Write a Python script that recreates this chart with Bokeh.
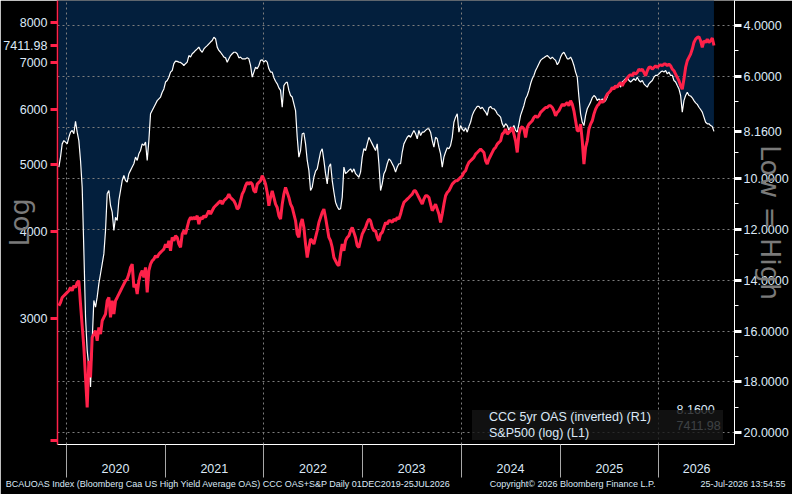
import pandas as pd
from bokeh.plotting import figure
from bokeh.models import (ColumnDataSource, Range1d, LinearAxis, LinearScale, FixedTicker,
                          Grid, PrintfTickFormatter, DatetimeTickFormatter, Label,
                          Legend, LegendItem)
from bokeh.embed import file_html
from bokeh.resources import INLINE

# ---------------- data ----------------
first_date = "2019-12-05"
last_date = "2026-07-24"

# CCC 5yr OAS (%), plotted inverted on the right axis
ccc_oas = [
    9.56, 9.17, 8.65, 8.52, 8.58, 8.65, 8.39, 8.19, 8.12, 8.25,
    7.76, 8.19, 8.52, 9.30, 10.35, 12.84, 15.45, 16.76, 17.42, 18.20,
    16.37, 14.80, 15.06, 14.67, 14.14, 13.75, 13.36, 12.97, 12.05, 10.61,
    10.48, 11.07, 11.33, 12.05, 11.53, 11.66, 10.87, 10.48, 10.09, 9.89,
    10.09, 10.15, 9.82, 9.69, 9.56, 9.43, 9.17, 9.30, 9.04, 8.91,
    8.65, 8.71, 8.58, 9.30, 8.52, 7.47, 7.34, 7.21, 7.08, 6.95,
    6.88, 6.81, 6.62, 6.49, 6.22, 6.16, 6.03, 5.83, 5.77, 5.50,
    5.40, 5.41, 5.44, 5.45, 5.50, 5.57, 5.50, 5.44, 5.18, 5.24,
    5.11, 5.05, 4.98, 4.92, 4.85, 4.98, 5.05, 4.92, 4.85, 4.79,
    4.72, 4.65, 4.59, 4.46, 4.52, 4.85, 4.98, 5.05, 5.14, 5.24,
    5.27, 5.44, 5.31, 5.18, 5.11, 5.05, 5.05, 5.11, 5.27, 5.24,
    5.31, 5.31, 5.31, 5.27, 5.31, 5.57, 6.03, 5.83, 5.64, 5.70,
    5.57, 5.37, 5.35, 5.44, 5.37, 5.44, 5.70, 5.83, 5.83, 6.05,
    6.19, 6.29, 6.45, 6.55,
    7.21, 6.36, 6.26, 6.22, 6.55, 6.75, 6.81, 7.08, 7.34, 8.39,
    9.17, 8.91, 8.25, 8.23, 8.65, 9.30, 9.69, 10.48, 10.35, 9.96,
    9.72, 9.63, 9.30, 8.97, 8.84, 9.30, 9.82, 10.22, 9.56, 9.43,
    10.09, 10.54, 10.94, 11.11, 11.23, 11.20, 10.74, 9.56, 9.82, 9.76,
    9.69, 9.63, 9.76, 9.63, 9.82, 9.89, 9.96, 9.76, 9.17, 8.84,
    8.91, 8.65, 8.39, 8.52, 8.65, 8.78, 8.91, 8.65, 9.43, 10.48,
    10.22, 9.82, 9.69, 9.43, 9.24, 9.30, 9.43, 9.56, 9.76, 9.56,
    9.43, 9.43, 8.97, 8.65, 8.52, 8.39, 8.32, 8.39, 8.25, 8.12,
    8.25, 8.45, 8.12, 8.32, 8.19, 8.19, 8.12, 8.06, 8.06, 8.19,
    8.52, 8.78, 8.39, 8.45, 8.78, 9.04, 9.56, 9.17, 8.97, 8.80,
    8.84, 8.71, 8.39, 7.80, 7.60, 7.47, 8.19, 7.93, 8.06, 8.15,
    8.02, 8.19, 7.97, 7.80, 7.53, 7.38, 7.27, 7.18, 7.18, 7.27,
    7.21, 7.31, 7.40, 7.53, 7.23, 7.18, 7.27, 7.27, 7.34, 7.47,
    7.53, 7.60,
    7.86, 7.99, 7.86, 7.93, 8.12, 7.99, 8.06, 7.93, 8.12, 8.19,
    7.86, 7.53, 7.34, 7.14, 6.88, 6.75, 6.55, 6.29, 6.09, 5.96,
    5.77, 5.64, 5.50, 5.37, 5.31, 5.27, 5.22, 5.18, 5.24, 5.31,
    5.24, 5.31, 5.37, 5.54, 5.44, 5.24, 5.11, 5.05, 5.18, 5.31,
    5.31, 5.24, 5.37, 5.57, 5.83, 6.03, 6.81, 7.47, 7.80, 7.93,
    7.53, 7.27, 7.14, 7.01, 6.84, 6.75, 6.81, 6.95, 6.88, 6.95,
    6.88, 7.01, 6.95, 6.81, 6.62, 6.55, 6.49, 6.42, 6.36, 6.36,
    6.29, 6.42, 6.22, 6.16, 6.09, 6.03, 6.16, 6.22, 6.16, 6.09,
    6.16, 6.03, 6.16, 6.22, 6.16, 6.29, 6.36, 6.42, 6.29, 6.22,
    6.16, 6.03, 5.96, 5.96, 5.90, 5.83, 5.79, 5.83, 5.77, 5.90,
    5.83, 5.96, 5.96, 6.16, 6.22, 6.36, 6.49, 6.75, 7.40, 6.95,
    6.75, 6.62, 6.75, 6.77, 6.84, 6.95, 7.04, 7.10, 7.21, 7.30,
    7.40, 7.60, 7.80, 7.86, 7.86, 7.93, 7.97, 8.16,
]

# S&P 500 index level, log left axis
spx = [
    3127, 3161, 3214, 3232, 3250, 3268, 3286, 3323, 3286, 3341,
    3323, 3378, 3397, 3144, 2926, 2723, 2465, 2232, 2605, 2465,
    2815, 2846, 2878, 2784, 2910, 2846, 2975, 3008, 3041, 3179,
    3214, 3008, 3179, 3041, 3179, 3214, 3250, 3286, 3323, 3360,
    3397, 3416, 3473, 3551, 3590, 3323, 3360, 3250, 3397, 3473,
    3512, 3435, 3551, 3268, 3512, 3590, 3630, 3650, 3691, 3670,
    3711, 3732, 3752, 3773, 3836, 3794, 3879, 3752, 3922, 3879,
    3944, 3922, 3836, 3794, 3966, 4010, 3966, 4054, 4145, 4191,
    4168, 4191, 4168, 4214, 4099, 4191, 4168, 4214, 4191, 4238,
    4285, 4238, 4285, 4332, 4356, 4380, 4405, 4429, 4380, 4429,
    4454, 4478, 4528, 4478, 4454, 4429, 4380, 4308, 4332, 4429,
    4528, 4578, 4655, 4707, 4681, 4707, 4681, 4578, 4553, 4681,
    4707, 4733, 4812, 4759, 4681, 4553, 4356, 4478, 4578, 4478,
    4380, 4332, 4214, 4168,
    4380, 4528, 4629, 4553, 4478, 4380, 4332, 4238, 4145, 3966,
    3922, 4099, 4168, 4054, 3836, 3670, 3794, 3900, 3879, 3836,
    3922, 4010, 4122, 4191, 4261, 4308, 4191, 4054, 3922, 3879,
    3794, 3670, 3630, 3590, 3570, 3711, 3836, 3752, 3879, 3922,
    3944, 4010, 4054, 3988, 3922, 3815, 3794, 3879, 3966, 4010,
    4054, 4122, 4168, 4145, 4054, 4010, 4010, 3922, 3879, 3966,
    3988, 4054, 4122, 4099, 4145, 4145, 4122, 4168, 4145, 4191,
    4168, 4238, 4332, 4405, 4429, 4454, 4478, 4503, 4528, 4578,
    4578, 4528, 4478, 4429, 4380, 4454, 4503, 4503, 4478, 4380,
    4285, 4332, 4380, 4308, 4238, 4122, 4238, 4380, 4503, 4553,
    4578, 4629, 4681, 4707, 4733, 4733, 4759, 4786, 4812, 4866,
    4893, 4974, 5030, 5058, 5086, 5114, 5171, 5199, 5228, 5257,
    5228, 5199, 5058, 5002, 5086, 5142, 5199, 5257, 5286, 5345,
    5375, 5404,
    5525, 5556, 5618, 5525, 5556, 5587, 5649, 5525, 5404, 5199,
    5525, 5636, 5661, 5618, 5464, 5649, 5711, 5743, 5775, 5839,
    5872, 5839, 5872, 5937, 5970, 6003, 6036, 6036, 6069, 6069,
    6036, 5970, 5872, 5937, 5970, 6036, 6103, 6069, 6103, 6137,
    6069, 6171, 6103, 5970, 5775, 5587, 5587, 5711, 5404, 5002,
    5286, 5404, 5618, 5711, 5775, 5904, 6003, 6069, 6103, 6171,
    6137, 6171, 6240, 6309, 6344, 6379, 6450, 6414, 6486, 6450,
    6522, 6558, 6486, 6558, 6594, 6653, 6704, 6726, 6704, 6779,
    6742, 6779, 6854, 6817, 6854, 6779, 6704, 6817, 6892, 6908,
    6854, 6892, 6931, 6892, 6931, 6954, 6931, 6969, 6969, 6931,
    6969, 6931, 6854, 6817, 6742, 6668, 6594, 6486, 6414, 6631,
    6892, 7047, 7125, 7204, 7325, 7488, 7571, 7613, 7630, 7530,
    7365, 7530, 7488, 7571, 7488, 7530, 7597, 7411.98,
]

year_labels = ["2020", "2021", "2022", "2023", "2024", "2025", "2026"]
oas_ticks = [4, 6, 8, 10, 12, 14, 16, 18, 20]
oas_minor_ticks = [5, 7, 9, 11, 13, 15, 17, 19]
spx_ticks = [2000, 3000, 4000, 5000, 6000, 7000, 8000]
grid_years = ["2020", "2022", "2024", "2026"]

ccc_name = "CCC 5yr OAS (inverted) (R1)"
spx_name = "S&P500 (log) (L1)"
left_title = "Log"
right_title = "Low = High"
footer_parts = ["BCAUOAS Index (Bloomberg Caa US High Yield Average OAS) CCC OAS+S&P Daily 01DEC2019-25JUL2026",
                "Copyright\u00a9 2026 Bloomberg Finance L.P.",
                "25-Jul-2026 13:54:55"]

# ---------------- styling ----------------
RED = "#ff2149"
NAVY = "#031f3d"
LBL = "#dce9f7"
GRID = "#7d7d7d"
TITLE_GRAY = "#7a7a7a"
FONT = "Liberation Sans"
FS = "12.5px"
NBSP = "\u00a0"


def ms(ts):
    return pd.Timestamp(ts).value / 1e6


ccc_dates = pd.date_range(first_date, last_date, periods=len(ccc_oas))
spx_dates = pd.date_range(first_date, last_date, periods=len(spx))
src_c = ColumnDataSource(dict(date=ccc_dates, oas=ccc_oas))
src_s = ColumnDataSource(dict(date=spx_dates, spx=spx))

x_start = pd.Timestamp("2019-11-30")
x_end = pd.Timestamp("2026-10-08")
oas_range = Range1d(start=20.457, end=3.018)

p = figure(width=792, height=494, x_axis_type="datetime", y_axis_type="log",
           x_range=Range1d(x_start, x_end), y_range=Range1d(1973.5, 8606),
           output_backend="svg", toolbar_location=None,
           background_fill_color="black", border_fill_color="black",
           min_border_left=57, min_border_right=58, min_border_top=0,
           min_border_bottom=50)
p.outline_line_color = None
p.extra_y_ranges = {"oas": oas_range}
p.extra_y_scales = {"oas": LinearScale()}
p.grid.visible = False


def style_labels(ax):
    ax.major_label_text_color = LBL
    ax.major_label_text_font = FONT
    ax.major_label_text_font_size = FS


def style_title(ax, text, standoff):
    ax.axis_label = text
    ax.axis_label_text_font = "DejaVu Sans"
    ax.axis_label_text_font_size = "27px"
    ax.axis_label_text_font_style = "normal"
    ax.axis_label_text_color = TITLE_GRAY
    ax.axis_label_standoff = standoff


# left (log) axis; the last S&P value is shown as an extra labelled tick
ya = p.yaxis[0]
ya.ticker = FixedTicker(ticks=spx_ticks + [spx[-1]])
ya.formatter = PrintfTickFormatter(format="%d")
ya.major_label_overrides = {spx_ticks[0]: "", spx[-1]: f"{spx[-1]:.2f}"}
ya.axis_line_color = RED
ya.axis_line_width = 1.5
ya.major_tick_line_color = RED
ya.major_tick_line_width = 3
ya.major_tick_out = 7
ya.major_tick_in = 0
ya.minor_tick_line_color = None
ya.minor_tick_out = 0
ya.major_label_standoff = 3
style_labels(ya)
style_title(ya, left_title, -35)

# right (inverted) axis; the last OAS value replaces the nearby round tick
label_ticks = [t for t in oas_ticks if abs(t - ccc_oas[-1]) > 0.5] + [ccc_oas[-1]]
ra = LinearAxis(y_range_name="oas",
                ticker=FixedTicker(ticks=label_ticks, minor_ticks=oas_minor_ticks),
                formatter=PrintfTickFormatter(format="%.4f"))
ra.axis_line_color = "white"
ra.major_tick_line_color = "white"
ra.major_tick_line_width = 3
ra.major_tick_out = 7
ra.major_tick_in = 0
ra.minor_tick_line_color = "white"
ra.minor_tick_out = 4
ra.minor_tick_in = 0
ra.major_label_standoff = 2
style_labels(ra)
style_title(ra, right_title, -37)
p.add_layout(ra, "right")

# bottom axis: year ticks at boundaries, labels centred in each year
year_starts = [ms(f"{y}-01-01") for y in year_labels]
mid_ticks = [ms(pd.Timestamp(f"{y}-01-01") + (pd.Timestamp(f"{y}-12-31") - pd.Timestamp(f"{y}-01-01")) / 2)
             for y in year_labels[:-1]]
last_start = pd.Timestamp(f"{year_labels[-1]}-01-01")
mid_ticks.append(ms(last_start + (x_end - last_start) / 2))
xa = p.xaxis[0]
xa.ticker = FixedTicker(ticks=mid_ticks, minor_ticks=year_starts)
xa.formatter = DatetimeTickFormatter(years="%Y", months="%Y", days="%Y", hours="%Y",
                                     hourmin="%Y", minutes="%Y", minsec="%Y", seconds="%Y",
                                     milliseconds="%Y", microseconds="%Y")
xa.axis_line_color = "white"
xa.major_tick_line_color = None
xa.major_tick_out = 0
xa.major_tick_in = 0
xa.minor_tick_line_color = "#a8a8a8"
xa.minor_tick_out = 33
xa.minor_tick_in = 0
xa.major_label_standoff = -14
style_labels(xa)
xa.axis_label = (NBSP * 16).join(footer_parts[:2]) + NBSP * 18 + footer_parts[2]
xa.axis_label_text_font = FONT
xa.axis_label_text_font_size = "9px"
xa.axis_label_text_font_style = "normal"
xa.axis_label_text_color = LBL
xa.axis_label_standoff = 3

# grids
p.add_layout(Grid(dimension=1, y_range_name="oas", ticker=FixedTicker(ticks=oas_ticks),
                  grid_line_color=GRID, grid_line_dash="2 3", grid_line_width=1))
p.add_layout(Grid(dimension=0, ticker=FixedTicker(ticks=[ms(f"{y}-01-01") for y in grid_years]),
                  grid_line_color=GRID, grid_line_dash="2 3", grid_line_width=1))

# series
p.varea(x="date", y1="oas", y2=oas_range.end, source=src_c, y_range_name="oas",
        fill_color=NAVY, level="image")
p.line("date", "oas", source=src_c, y_range_name="oas", line_color="white", line_width=1.2)
p.line("date", "spx", source=src_s, line_color=RED, line_width=3)

# legend (square swatches)
sw_c = p.quad(left=[], right=[], top=[], bottom=[], fill_color="white", line_color=None)
sw_s = p.quad(left=[], right=[], top=[], bottom=[], fill_color=RED, line_color=None)
legend = Legend(items=[LegendItem(label=ccc_name, renderers=[sw_c]),
                       LegendItem(label=spx_name, renderers=[sw_s])],
                location=(415, 4), glyph_width=14, glyph_height=14, label_height=14,
                label_width=234, label_standoff=3, padding=8, spacing=2, margin=0,
                background_fill_color="#151515", background_fill_alpha=0.8,
                border_line_color=None, label_text_font=FONT, label_text_font_size=FS,
                label_text_color=LBL)
p.add_layout(legend)
p.add_layout(Label(x=619, y=35, x_units="screen", y_units="screen", text=f"{ccc_oas[-1]:.4f}",
                   text_baseline="middle", text_color=LBL, text_font=FONT, text_font_size=FS,
                   level="overlay"))
p.add_layout(Label(x=619, y=19, x_units="screen", y_units="screen", text=f"{spx[-1]:.2f}",
                   text_baseline="middle", text_color=LBL, text_font=FONT, text_font_size=FS,
                   level="overlay"))

open("out.html", "w").write(file_html(p, INLINE))
